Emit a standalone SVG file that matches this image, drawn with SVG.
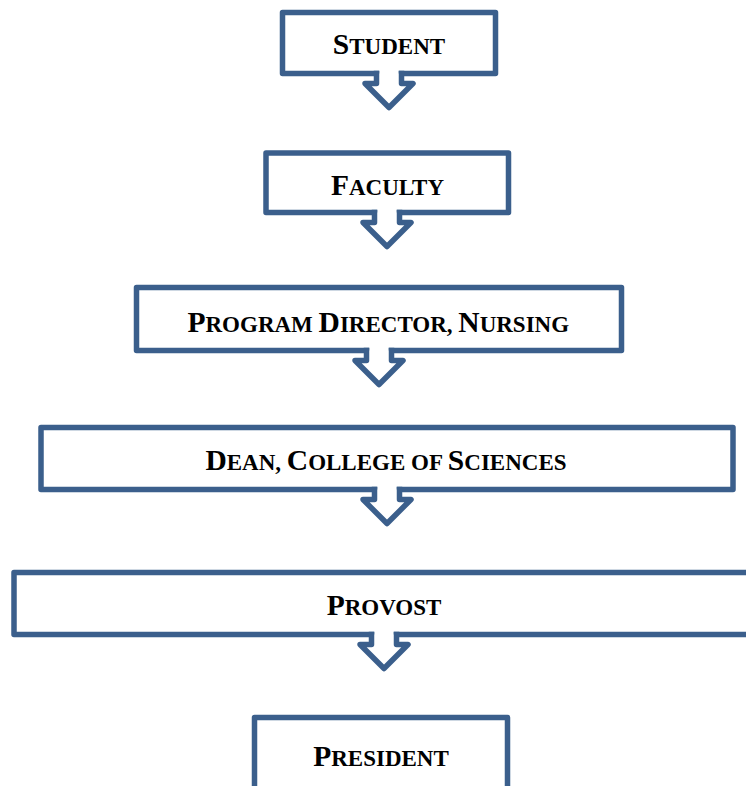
<svg xmlns="http://www.w3.org/2000/svg" width="746" height="786" viewBox="0 0 746 786">
<style>
.box{fill:#fff;stroke:#3B5F8C;stroke-width:5.5;stroke-linejoin:round;stroke-linecap:square}
.arr{fill:#fff;stroke:#3B5F8C;stroke-width:5.5;stroke-linejoin:round;stroke-linecap:square}
.t{font-family:"Liberation Serif","Times New Roman",serif;font-weight:bold;fill:#000;text-anchor:middle}
.c{font-size:29.5px}
.s{font-size:23px}
</style>
<rect width="746" height="786" fill="#fff"/>
<g id="student">
<path class="box" d="M401.5,73.5 H495.5 V12.5 H282.5 V73.5 H376.5"/>
<text class="t" x="389" y="54.3"><tspan class="c">S</tspan><tspan class="s">TUDENT</tspan></text>
</g>
<g id="faculty">
<path class="box" d="M399.5,212.5 H508.5 V153 H266 V212.5 H374.5"/>
<text class="t" x="387.5" y="195"><tspan class="c">F</tspan><tspan class="s">ACULTY</tspan></text>
</g>
<g id="program-director">
<path class="box" d="M391.5,350.5 H621.5 V287.5 H136.5 V350.5 H366.5"/>
<text class="t" x="378.3" y="331.6"><tspan class="c">P</tspan><tspan class="s">ROGRAM </tspan><tspan class="c">D</tspan><tspan class="s">IRECTOR, </tspan><tspan class="c">N</tspan><tspan class="s">URSING</tspan></text>
</g>
<g id="dean">
<path class="box" d="M399.5,489.5 H733 V427.5 H41 V489.5 H374.5"/>
<text class="t" x="386" y="470"><tspan class="c">D</tspan><tspan class="s">EAN, </tspan><tspan class="c">C</tspan><tspan class="s">OLLEGE OF </tspan><tspan class="c">S</tspan><tspan class="s">CIENCES</tspan></text>
</g>
<g id="provost">
<path class="box" d="M396.5,634.5 H754 V572.5 H14 V634.5 H371.5"/>
<text class="t" x="384" y="615"><tspan class="c">P</tspan><tspan class="s">ROVOST</tspan></text>
</g>
<g id="president">
<path class="box" d="M254.5,800 V717.5 H507.5 V800"/>
<text class="t" x="381" y="765.7"><tspan class="c">P</tspan><tspan class="s">RESIDENT</tspan></text>
</g>
<g id="connectors">
<path class="arr" d="M376.5,73.5 V83.5 H365 L389,107.5 L413,83.5 H401.5 V73.5"/>
<path class="arr" d="M374.5,212.5 V222.5 H363 L387,246.5 L411,222.5 H399.5 V212.5"/>
<path class="arr" d="M366.5,350.5 V360.5 H355 L379,384.5 L403,360.5 H391.5 V350.5"/>
<path class="arr" d="M374.5,489.5 V499.5 H363 L387,523.5 L411,499.5 H399.5 V489.5"/>
<path class="arr" d="M371.5,634.5 V644.5 H360 L384,668.5 L408,644.5 H396.5 V634.5"/>
</g>
</svg>
